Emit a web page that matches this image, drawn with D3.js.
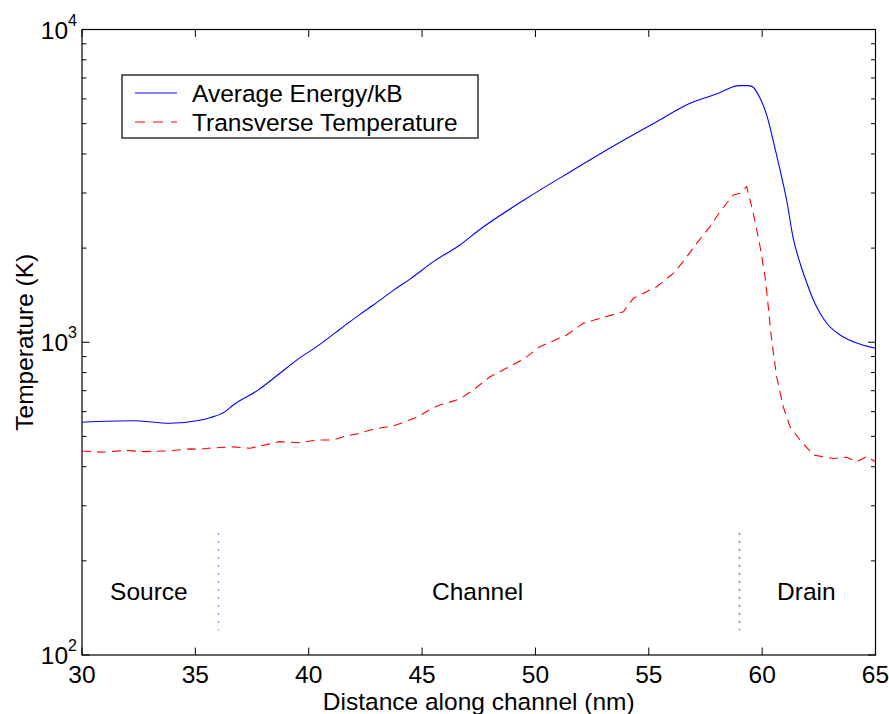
<!DOCTYPE html>
<html>
<head>
<meta charset="utf-8">
<script src="https://cdn.jsdelivr.net/npm/d3@7"></script>
<style>
  html, body { margin: 0; padding: 0; background: #fff; }
  svg { display: block; }
  text { font-family: "Liberation Sans", Arial, Helvetica, sans-serif; fill: #000; }
</style>
</head>
<body>
<svg id="chart" width="889" height="714"></svg>
<script>
// ---- Data ----
const energyX = [30.0, 32.26, 33.88, 35.2, 35.65, 36.31, 36.67, 37.78, 38.73, 39.47, 40.35, 41.08, 41.53, 42.26, 42.85, 43.73, 44.47, 45.5, 46.67, 47.56, 49.62, 51.67, 53.44, 55.35, 56.82, 57.85, 58.14, 58.58, 58.94, 59.33, 59.55, 59.91, 60.2, 60.48, 60.79, 61.08, 61.36, 61.67, 61.97, 62.26, 62.55, 62.85, 63.44, 64.02, 65.0];
const energyK = [555, 561, 551, 563, 574, 600, 630, 704, 796, 877, 968, 1060, 1122, 1228, 1315, 1465, 1592, 1810, 2046, 2297, 2886, 3555, 4241, 5073, 5808, 6173, 6290, 6502, 6613, 6613, 6580, 6026, 5331, 4434, 3555, 2850, 2170, 1792, 1547, 1365, 1240, 1150, 1055, 1004, 957];

const transX = [30.0, 30.94, 31.97, 32.7, 33.74, 34.76, 35.2, 35.57, 36.67, 37.41, 38.73, 39.62, 40.35, 41.08, 41.53, 42.26, 42.85, 43.73, 44.76, 45.5, 45.79, 46.67, 47.26, 48.0, 49.47, 50.2, 51.38, 52.11, 52.85, 53.88, 54.32, 55.35, 56.08, 56.52, 57.11, 57.7, 58.14, 58.73, 59.02, 59.32, 59.61, 59.91, 60.13, 60.27, 60.42, 60.64, 60.93, 61.23, 61.67, 62.26, 63.14, 63.73, 64.17, 64.61, 65.0];
const transK = [449, 445, 451, 447, 449, 456, 455, 458, 463, 458, 481, 477, 487, 487, 499, 512, 527, 540, 575, 618, 630, 658, 704, 776, 882, 968, 1055, 1150, 1193, 1252, 1382, 1505, 1661, 1810, 2072, 2342, 2615, 2957, 2995, 3144, 2585, 2020, 1620, 1299, 1017, 776, 622, 537, 487, 436, 425, 429, 415, 431, 415];

const seriesNames = ["Average Energy/kB", "Transverse Temperature"];
const xTicks = [30, 35, 40, 45, 50, 55, 60, 65];
const yMajorTicks = [100, 1000, 10000];
const yMajorExp = ["2", "3", "4"];
const yMinorTicks = [200, 300, 400, 500, 600, 700, 800, 900, 2000, 3000, 4000, 5000, 6000, 7000, 8000, 9000];
const regionNames = ["Source", "Channel", "Drain"];
const regionCenters = [32.95, 47.45, 61.95];
const regionLabelK = 160;
const boundaryX = [36, 59];
const boundaryRangeK = [120, 245];
const xTitle = "Distance along channel (nm)";
const yTitle = "Temperature (K)";

// ---- Layout ----
const svg = d3.select("#chart");
const pL = 82, pR = 875.5, pT = 29.5, pB = 655;
const x = d3.scaleLinear().domain([30, 65]).range([pL, pR]);
const y = d3.scaleLog().domain([100, 10000]).range([pB, pT]);

const FS = 24.5;

// Axes box
svg.append("rect")
  .attr("x", pL).attr("y", pT)
  .attr("width", pR - pL).attr("height", pB - pT)
  .attr("fill", "none").attr("stroke", "#000").attr("stroke-width", 1.2);

// Ticks (inward, all four sides)
const majLen = 7.5, minLen = 4.5;
const gT = svg.append("g").attr("stroke", "#000").attr("stroke-width", 1);
xTicks.forEach(t => {
  gT.append("line").attr("x1", x(t)).attr("x2", x(t)).attr("y1", pB).attr("y2", pB - majLen);
  gT.append("line").attr("x1", x(t)).attr("x2", x(t)).attr("y1", pT).attr("y2", pT + majLen);
});
yMajorTicks.forEach(t => {
  gT.append("line").attr("x1", pL).attr("x2", pL + majLen).attr("y1", y(t)).attr("y2", y(t));
  gT.append("line").attr("x1", pR).attr("x2", pR - majLen).attr("y1", y(t)).attr("y2", y(t));
});
yMinorTicks.forEach(t => {
  gT.append("line").attr("x1", pL).attr("x2", pL + minLen).attr("y1", y(t)).attr("y2", y(t));
  gT.append("line").attr("x1", pR).attr("x2", pR - minLen).attr("y1", y(t)).attr("y2", y(t));
});

// X tick labels
svg.append("g").selectAll("text").data(xTicks).join("text")
  .attr("x", d => x(d)).attr("y", 683)
  .attr("text-anchor", "middle").attr("font-size", FS)
  .text(d => d);

// Y tick labels: 10^n
yMajorTicks.forEach((t, i) => {
  const tx = svg.append("text")
    .attr("x", pL - 5).attr("y", y(t) + 9)
    .attr("text-anchor", "end").attr("font-size", FS);
  tx.append("tspan").text("10");
  tx.append("tspan").attr("dy", -13).attr("font-size", 16).text(yMajorExp[i]);
});

// Axis titles
svg.append("text")
  .attr("x", (pL + pR) / 2).attr("y", 709.5)
  .attr("text-anchor", "middle").attr("font-size", FS)
  .text(xTitle);
svg.append("text")
  .attr("transform", `translate(33, ${(pT + pB) / 2}) rotate(-90)`)
  .attr("text-anchor", "middle").attr("font-size", FS)
  .text(yTitle);

// Region boundary dotted lines
const bColors = ["#7777ff", "#3333ee"];
boundaryX.forEach((b, i) => {
  svg.append("line")
    .attr("x1", Math.round(x(b)) + 0.5).attr("x2", Math.round(x(b)) + 0.5)
    .attr("y1", y(boundaryRangeK[1])).attr("y2", y(boundaryRangeK[0]))
    .attr("stroke", bColors[i]).attr("stroke-width", 1.4)
    .attr("stroke-dasharray", "1.4,6.6");
});

// Region labels
svg.append("g").selectAll("text").data(regionNames).join("text")
  .attr("x", (d, i) => x(regionCenters[i])).attr("y", y(regionLabelK) + 8.5)
  .attr("text-anchor", "middle").attr("font-size", FS)
  .text(d => d);

// Curves
const energyData = energyX.map((d, i) => [d, energyK[i]]);
const transData = transX.map((d, i) => [d, transK[i]]);

svg.append("clipPath").attr("id", "clip").append("rect")
  .attr("x", pL).attr("y", pT).attr("width", pR - pL).attr("height", pB - pT);

svg.append("path")
  .datum(energyData)
  .attr("clip-path", "url(#clip)")
  .attr("fill", "none").attr("stroke", "#0000ff").attr("stroke-width", 1.1)
  .attr("d", d3.line().x(d => x(d[0])).y(d => y(d[1])).curve(d3.curveMonotoneX));

svg.append("path")
  .datum(transData)
  .attr("clip-path", "url(#clip)")
  .attr("fill", "none").attr("stroke", "#ff0000").attr("stroke-width", 1.1)
  .attr("stroke-dasharray", "9,6")
  .attr("d", d3.line().x(d => x(d[0])).y(d => y(d[1])));

// Legend
const lg = svg.append("g");
lg.append("rect")
  .attr("x", 122).attr("y", 75).attr("width", 356).attr("height", 63)
  .attr("fill", "#fff").attr("stroke", "#000").attr("stroke-width", 1.2);
const legRows = [93, 122];
const legColors = ["#0000ff", "#ff0000"];
const legDash = [null, "10,8"];
seriesNames.forEach((n, i) => {
  lg.append("line")
    .attr("x1", 135).attr("x2", 177).attr("y1", legRows[i]).attr("y2", legRows[i])
    .attr("stroke", legColors[i]).attr("stroke-width", 1.1)
    .attr("stroke-dasharray", legDash[i]);
  lg.append("text")
    .attr("x", 192).attr("y", legRows[i] + 8.5)
    .attr("font-size", FS).text(n);
});
</script>
</body>
</html>
